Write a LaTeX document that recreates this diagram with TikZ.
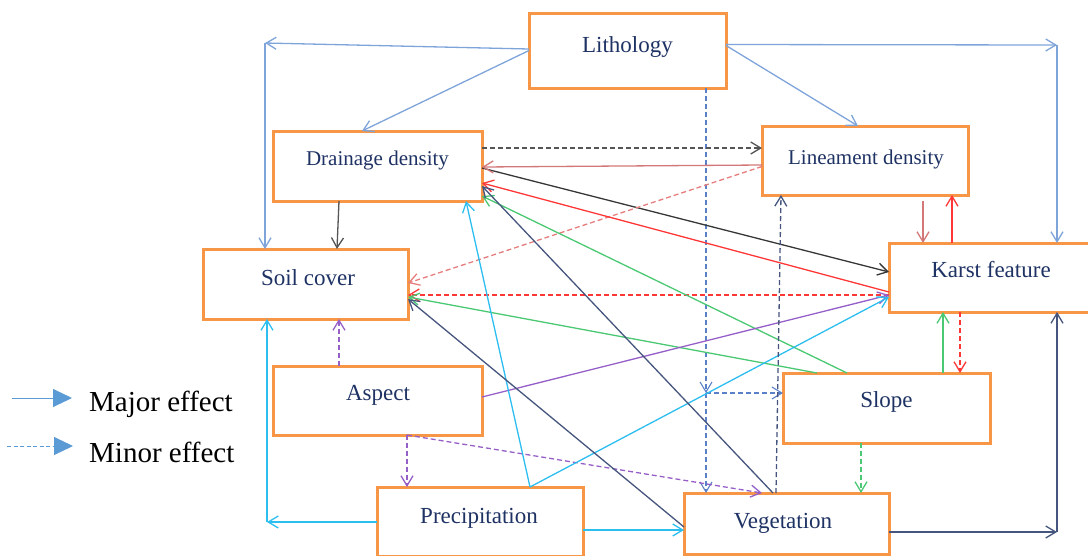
\documentclass[tikz,border=0pt]{standalone}
\usepackage{fontspec}
\setmainfont{Liberation Serif}
\usetikzlibrary{arrows.meta}
\definecolor{boxorange}{RGB}{247,150,70}
\definecolor{textnavy}{RGB}{30,50,100}
\definecolor{lithblue}{RGB}{126,164,218}
\definecolor{lithdash}{RGB}{90,128,200}
\definecolor{grayline}{RGB}{85,85,85}
\definecolor{blackline}{RGB}{55,55,55}
\definecolor{roseline}{RGB}{210,120,120}
\definecolor{pinkline}{RGB}{230,125,125}
\definecolor{redline}{RGB}{255,55,55}
\definecolor{greenline}{RGB}{75,200,115}
\definecolor{purpleline}{RGB}{150,95,200}
\definecolor{cyanline}{RGB}{45,190,240}
\definecolor{navyline}{RGB}{70,85,125}
\definecolor{legblue}{RGB}{91,155,213}
\tikzset{
  box/.style={draw=boxorange, line width=3pt, fill=white, inner sep=0pt, outer sep=0pt},
  boxtext/.style={text=textnavy, font=\fontsize{23}{27}\selectfont, anchor=base, inner sep=0pt},
  majorarr/.style={line width=1.3pt, -{Straight Barb[length=10pt,width=12pt]}},
  minorarr/.style={majorarr, dash pattern=on 5pt off 3pt},
  legarr/.style={line width=1pt, legblue, -{Triangle[length=19pt,width=18pt]}},
  legtext/.style={font=\fontsize{29}{34}\selectfont, anchor=base west, inner sep=0pt}
}

\begin{document}
\begin{tikzpicture}[x=1pt, y=-1pt]

\useasboundingbox (0,0) rectangle (1088,555);

% boxes
\node[box, minimum width=197pt, minimum height=75pt] (litho)  at (627.5,50.5) {};
\node[box, minimum width=209pt, minimum height=70pt] (drain)  at (377.5,166)  {};
\node[box, minimum width=206pt, minimum height=69pt] (linea)  at (865,160.5)  {};
\node[box, minimum width=205pt, minimum height=70pt] (soil)   at (305.5,284)  {};
\node[box, minimum width=200pt, minimum height=69pt] (karst)  at (989,277.5)  {};
\node[box, minimum width=209pt, minimum height=69pt] (aspect) at (377.5,400.5) {};
\node[box, minimum width=207pt, minimum height=70pt] (slope)  at (886.5,408)  {};
\node[box, minimum width=206pt, minimum height=69pt] (precip) at (480,521.5)  {};
\node[box, minimum width=205pt, minimum height=61pt] (veget)  at (786.5,523.5) {};

\node[boxtext] (lithoT)  at (627.5,52)  {Lithology};
\node[boxtext, font=\fontsize{21}{25}\selectfont] (drainT) at (377.5,165) {Drainage density};
\node[boxtext, font=\fontsize{21}{25}\selectfont] (lineaT) at (866,164)   {Lineament density};
\node[boxtext] (soilT)   at (308,285.5) {Soil cover};
\node[boxtext] (karstT)  at (991,277.5) {Karst feature};
\node[boxtext] (aspectT) at (378,400.5) {Aspect};
\node[boxtext] (slopeT)  at (886.5,407.5) {Slope};
\node[boxtext] (precipT) at (479,523.5) {Precipitation};
\node[boxtext] (vegetT)  at (783,528.5) {Vegetation};

% Lithology
\coordinate (lw) at (265,43);
\coordinate (le) at (1057,45);
\coordinate (ls) at (706,393);
\draw[majorarr, lithblue] ([yshift=1.5pt]litho.west) -- (lw);
\draw[majorarr, lithblue] (lw) -- (lw |- soil.north);
\draw[majorarr, lithblue] (litho.west) -- ([xshift=-15.5pt]drain.north);
\draw[majorarr, lithblue] ([yshift=6pt]litho.east) -- (le);
\draw[majorarr, lithblue] (le) -- (le |- karst.north);
\draw[majorarr, lithblue] ([yshift=5pt]litho.east) -- ([xshift=-7pt]linea.north);
\draw[minorarr, lithdash, line width=1.1pt] ([xshift=78.5pt]litho.south) -- (ls);
\draw[minorarr, lithdash, line width=1.1pt] (ls) -- (ls |- veget.north);
\draw[minorarr, lithdash, line width=1.1pt] (ls) -- (ls -| slope.west);

% Drainage density
\draw[minorarr, grayline] ([yshift=18pt]drain.east) -- ([yshift=12.5pt]linea.west);
\draw[majorarr, grayline] ([xshift=-38.5pt]drain.south) -- ([xshift=31.5pt]soil.north);
\draw[majorarr, blackline] ([yshift=-2pt]drain.east) -- ([yshift=5.5pt]karst.west);

% Lineament density
\draw[majorarr, roseline] ([yshift=-4.5pt]linea.west) -- ([yshift=-1pt]drain.east);
\draw[minorarr, pinkline] ([yshift=-6pt]linea.west) -- ([yshift=1pt]soil.east);
\draw[majorarr, roseline] ([xshift=58pt,yshift=-6pt]linea.south) -- ([xshift=-66pt]karst.north);

% Karst feature
\draw[majorarr, redline] ([xshift=-37pt]karst.north) -- ([xshift=87pt]linea.south);
\draw[majorarr, redline] ([yshift=-14.5pt]karst.west) -- ([yshift=-17pt]drain.east);
\draw[minorarr, redline] ([yshift=-17.5pt]karst.west) -- ([yshift=-11pt]soil.east);
\draw[minorarr, redline] ([xshift=-29pt]karst.south) -- ([xshift=73.5pt]slope.north);

% Slope
\draw[majorarr, greenline] ([xshift=56.5pt]slope.north) -- ([xshift=-46pt]karst.south);
\draw[majorarr, greenline] ([xshift=-39.5pt]slope.north) -- ([yshift=-30pt]drain.east);
\draw[majorarr, greenline] ([xshift=-69.5pt]slope.north) -- ([yshift=-13pt]soil.east);
\draw[minorarr, greenline] ([xshift=-25.5pt]slope.south) -- ([xshift=74.5pt]veget.north);

% Aspect
\draw[minorarr, purpleline] ([xshift=-38.5pt]aspect.north) -- ([xshift=33.5pt]soil.south);
\draw[majorarr, purpleline] ([yshift=3.5pt]aspect.east) -- ([yshift=-17.5pt]karst.west);
\draw[minorarr, purpleline] ([xshift=29.5pt]aspect.south) -- ([xshift=-73pt]precip.north);
\draw[minorarr, purpleline] ([xshift=29.5pt]aspect.south) -- ([xshift=-24.5pt]veget.north);

% Precipitation
\coordinate (pw) at (267,522);
\draw[majorarr, cyanline] ([yshift=-0.5pt]precip.west) -- (pw);
\draw[majorarr, cyanline] (pw) -- (pw |- soil.south);
\draw[majorarr, cyanline] ([xshift=50pt]precip.north) -- ([xshift=88.5pt]drain.south);
\draw[majorarr, cyanline] ([xshift=50pt]precip.north) -- ([yshift=-19.5pt]karst.west);
\draw[majorarr, cyanline] ([yshift=-8.5pt]precip.east) -- ([yshift=-6.5pt]veget.west);

% Vegetation
\coordinate (ve) at (1057,532);
\draw[majorarr, navyline] ([yshift=-3.5pt]veget.west) -- ([yshift=-15pt]soil.east);
\draw[majorarr, navyline] ([xshift=-13.5pt]veget.north) -- ([yshift=-20pt]drain.east);
\draw[minorarr, navyline] ([xshift=-10.5pt]veget.north) -- ([xshift=-84pt]linea.south);
\draw[majorarr, navyline] ([yshift=-8.5pt]veget.east) -- (ve);
\draw[majorarr, navyline] (ve) -- (ve |- karst.south);

% legend
\coordinate (mj0) at (12,398);
\coordinate (mj1) at (72,398);
\coordinate (mn0) at (7,446);
\coordinate (mn1) at (73,446);
\draw[legarr] (mj0) -- (mj1);
\draw[legarr, dash pattern=on 4pt off 2.5pt] (mn0) -- (mn1);
\node[legtext] (mjT) at (89,411) {Major effect};
\node[legtext] (mnT) at (89,462) {Minor effect};

\end{tikzpicture}
\end{document}
